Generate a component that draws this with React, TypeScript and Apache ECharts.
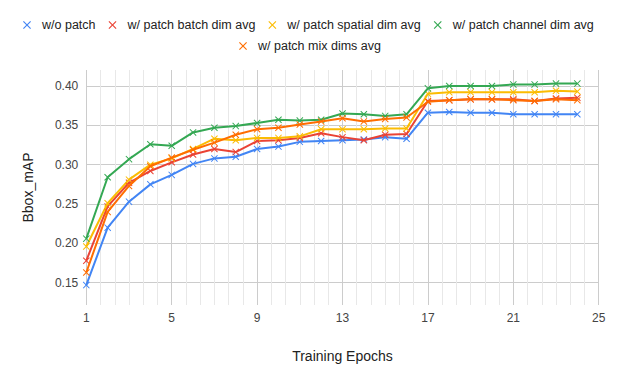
import React, { useEffect, useRef } from "react";
import * as echarts from "echarts";

const epochs = [1, 2, 3, 4, 5, 6, 7, 8, 9, 10, 11, 12, 13, 14, 15, 16, 17, 18, 19, 20, 21, 22, 23, 24];
const seriesNames = [
  "w/o patch",
  "w/ patch batch dim avg",
  "w/ patch spatial dim avg",
  "w/ patch channel dim avg",
  "w/ patch mix dims avg",
];
const woPatch = [0.147, 0.22, 0.253, 0.275, 0.287, 0.301, 0.308, 0.31, 0.32, 0.323, 0.329, 0.33, 0.331, 0.332, 0.335, 0.333, 0.366, 0.367, 0.366, 0.366, 0.364, 0.364, 0.364, 0.364];
const batchAvg = [0.178, 0.247, 0.277, 0.292, 0.303, 0.313, 0.32, 0.316, 0.33, 0.331, 0.334, 0.34, 0.335, 0.331, 0.338, 0.339, 0.381, 0.382, 0.383, 0.383, 0.383, 0.381, 0.384, 0.385];
const spatialAvg = [0.196, 0.251, 0.281, 0.3, 0.308, 0.32, 0.333, 0.331, 0.334, 0.334, 0.336, 0.345, 0.345, 0.345, 0.346, 0.346, 0.39, 0.392, 0.392, 0.392, 0.392, 0.392, 0.394, 0.393];
const channelAvg = [0.206, 0.284, 0.307, 0.326, 0.324, 0.341, 0.347, 0.349, 0.353, 0.357, 0.356, 0.357, 0.365, 0.364, 0.362, 0.364, 0.397, 0.4, 0.4, 0.4, 0.402, 0.402, 0.403, 0.403];
const mixAvg = [0.163, 0.24, 0.273, 0.298, 0.309, 0.319, 0.328, 0.338, 0.345, 0.347, 0.351, 0.355, 0.359, 0.355, 0.358, 0.36, 0.38, 0.382, 0.383, 0.383, 0.382, 0.381, 0.383, 0.382];
const yTicks = [0.15, 0.2, 0.25, 0.3, 0.35, 0.4];
const xTickLabels = [1, 5, 9, 13, 17, 21, 25];

const colors = ["#4285F4", "#EA4335", "#FBBC04", "#34A853", "#FF6D01"];
const allValues = [woPatch, batchAvg, spatialAvg, channelAvg, mixAvg];

const CROSS =
  "path://M0,1L1,0L5,4L9,0L10,1L6,5L10,9L9,10L5,6L1,10L0,9L4,5Z";

export default function App() {
  const ref = useRef<HTMLDivElement>(null);
  useEffect(() => {
    if (!ref.current) return;
    const chart = echarts.init(ref.current, null, { renderer: "svg" });
    const font = "'Liberation Sans', Arial, sans-serif";
    const legendCommon = {
      orient: "horizontal",
      icon: CROSS,
      itemWidth: 20,
      itemHeight: 8,
      itemGap: 13,
      textStyle: { fontFamily: font, fontSize: 12.5, color: "#222", lineHeight: 14 },
    };
    chart.setOption({
      animation: false,
      color: colors,
      textStyle: { fontFamily: font },
      legend: [
        { ...legendCommon, left: 18, top: 13, data: seriesNames.slice(0, 4) },
        { ...legendCommon, left: 234, top: 34, data: seriesNames.slice(4) },
      ],
      grid: { left: 86.3, right: 19.3, top: 70, bottom: 77, containLabel: false },
      xAxis: [
        {
          type: "value",
          min: 1,
          max: 25,
          show: false,
        },
        {
          type: "value",
          min: 0,
          max: 24,
          interval: 4,
          position: "bottom",
          axisLine: { show: false },
          axisTick: { show: false },
          axisLabel: {
            margin: 7,
            color: "#444",
            fontSize: 12,
            fontFamily: font,
            formatter: (v: number) => String(xTickLabels[Math.round(v / 4)] ?? ""),
          },
          splitLine: { show: true, lineStyle: { color: "#cccccc", width: 1 } },
          minorTick: { show: false, splitNumber: 6 },
          minorSplitLine: { show: true, lineStyle: { color: "#e8e8e8", width: 1 } },
          name: "Training Epochs",
          nameLocation: "middle",
          nameGap: 44,
          nameTextStyle: { fontSize: 14, color: "#222", fontFamily: font },
        },
      ],
      yAxis: {
        type: "value",
        min: 0.1217,
        max: 0.4203,
        axisLine: { show: false },
        axisTick: { show: false, customValues: yTicks },
        axisLabel: {
          customValues: yTicks,
          margin: 8,
          color: "#444",
          fontSize: 12,
          fontFamily: font,
          formatter: (v: number) => v.toFixed(2),
        },
        splitLine: { show: true, lineStyle: { color: "#cccccc", width: 1 } },
        name: "Bbox_mAP",
        nameLocation: "middle",
        nameGap: 51,
        nameTextStyle: { fontSize: 14, color: "#222", fontFamily: font },
      },
      series: seriesNames.map((name, i) => ({
        name,
        type: "line",
        xAxisIndex: 0,
        data: epochs.map((e, j) => [e, allValues[i][j]]),
        symbol: CROSS,
        symbolSize: 7,
        showAllSymbol: true,
        lineStyle: { width: 2, color: colors[i] },
        itemStyle: { color: colors[i] },
        z: 2 + i,
      })),
    });
    return () => chart.dispose();
  }, []);
  return <div ref={ref} style={{ width: 618, height: 382, position: "absolute", left: 0, top: 0 }} />;
}
